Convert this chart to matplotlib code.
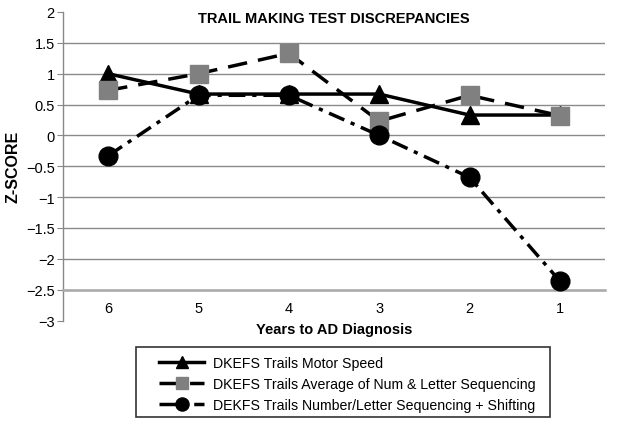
import matplotlib
matplotlib.use('Agg')
import matplotlib.pyplot as plt
import numpy as np
from matplotlib.ticker import FuncFormatter
from matplotlib.patches import Rectangle

plt.rcParams['font.family'] = ['Liberation Sans', 'DejaVu Sans']
plt.rcParams['lines.scale_dashes'] = False

years = ['6', '5', '4', '3', '2', '1']
motor_speed = [1.0, 0.67, 0.67, 0.67, 0.33, 0.33]
num_letter_avg = [0.73, 1.0, 1.33, 0.23, 0.65, 0.32]
switching = [-0.33, 0.65, 0.65, 0.0, -0.68, -2.36]

labels = ['DKEFS Trails Motor Speed',
          'DKEFS Trails Average of Num & Letter Sequencing',
          'DEKFS Trails Number/Letter Sequencing + Shifting']
yticks = np.arange(-3, 2.01, 0.5)

W, H = 617, 427
fig = plt.figure(figsize=(W / 100, H / 100), dpi=100)
ax = fig.add_axes([63 / W, 1 - 321.5 / H, 542 / W, 308.5 / H])

x = np.arange(len(years))
# gridlines (none at top and bottom)
for v in yticks[1:-1]:
    ax.axhline(v, color='#8a8a8a', linewidth=1.0, zorder=0)

ax.plot(x, motor_speed, color='black', linewidth=2.5, marker='^',
        markersize=13, markerfacecolor='black', label=labels[0], zorder=3)
ax.plot(x, num_letter_avg, color='black', linewidth=2.5, dashes=(14, 8),
        marker='s', markersize=13, markerfacecolor='#808080',
        markeredgecolor='#808080', label=labels[1], zorder=4)
ax.plot(x, switching, color='black', linewidth=2.5, dashes=(12, 5, 3, 5),
        marker='o', markersize=13.5, markerfacecolor='black', label=labels[2], zorder=5)

ax.set_xlim(-0.5, len(years) - 0.5)
ax.set_ylim(-3, 2)
ax.set_yticks(yticks)
ax.yaxis.set_major_formatter(FuncFormatter(lambda v, p: ('%g' % v).replace('-', '\u2212')))
ax.set_xticks(x)
ax.set_xticklabels(years)

for s in ['top', 'right']:
    ax.spines[s].set_visible(False)
ax.spines['left'].set_color('#888888')
ax.spines['left'].set_linewidth(1.0)
ax.spines['bottom'].set_position(('data', -2.5))
ax.spines['bottom'].set_color('#aaaaaa')
ax.spines['bottom'].set_linewidth(1.8)
ax.tick_params(axis='y', length=4, color='#888888', labelsize=10.5, pad=2)
ax.tick_params(axis='x', length=0, labelsize=10.5, pad=8)

fig.text(334 / W, 1 - 19 / H, 'TRAIL MAKING TEST DISCREPANCIES',
         ha='center', va='center', fontsize=10.5, fontweight='bold')
fig.text(13 / W, 1 - 167 / H, 'Z-SCORE', rotation=90, ha='center', va='center',
         fontsize=11.5, fontweight='bold')
fig.text(334 / W, 1 - 330 / H, 'Years to AD Diagnosis', ha='center', va='center',
         fontsize=10.5, fontweight='bold')

# legend without its own frame, box drawn separately
leg = fig.legend(loc='upper left', bbox_to_anchor=(152 / W, 1 - 350 / H),
                 fontsize=10.2, handlelength=3.2, frameon=False, markerscale=0.7,
                 borderpad=0, labelspacing=0.48, handletextpad=0.6)
fig.patches.append(Rectangle((136 / W, 1 - 418 / H), 414 / W, 70 / H,
                             transform=fig.transFigure, fill=False,
                             edgecolor='#333333', linewidth=1.2))

fig.savefig('out.png', dpi=100)
